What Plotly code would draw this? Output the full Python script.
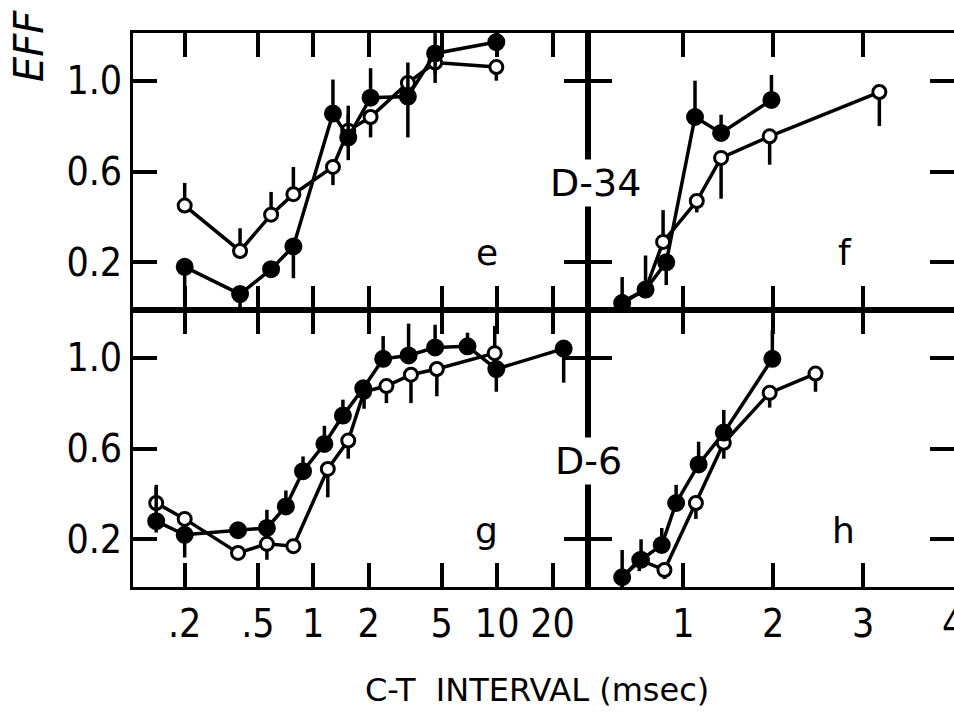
import plotly.graph_objects as go

# ---------------- data ----------------
# panel e (D-34, log axis)
e_x = [0.2, 0.4, 0.59, 0.78, 1.28, 1.55, 2.05, 3.27, 4.6, 9.9]
e_open = [0.45, 0.25, 0.41, 0.50, 0.62, 0.78, 0.84, 0.99, 1.08, 1.06]
e_open_up = [0.10, 0.10, 0.10, 0.12, 0.0, 0.07, 0.0, 0.0, 0.0, 0.0]
e_open_dn = [0.0, 0.0, 0.0, 0.0, 0.08, 0.05, 0.09, 0.0, 0.05, 0.06]
e_fill = [0.18, 0.06, 0.17, 0.27, 0.855, 0.75, 0.925, 0.93, 1.12, 1.17]
e_fill_up = [0.0, 0.0, 0.0, 0.0, 0.15, 0.14, 0.13, 0.15, 0.10, 0.08]
e_fill_dn = [0.15, 0.06, 0.0, 0.14, 0.0, 0.10, 0.0, 0.18, 0.13, 0.0]

# panel f (D-34, linear axis)
f_open_x = [0.32, 0.58, 0.775, 1.15, 1.42, 1.96, 3.18]
f_open = [0.025, 0.08, 0.29, 0.47, 0.66, 0.755, 0.95]
f_open_up = [0.11, 0.15, 0.14, 0.0, 0.0, 0.0, 0.0]
f_open_dn = [0.0, 0.0, 0.0, 0.05, 0.18, 0.125, 0.15]
f_fill_x = [0.32, 0.58, 0.81, 1.13, 1.42, 1.98]
f_fill = [0.02, 0.08, 0.2, 0.84, 0.77, 0.915]
f_fill_up = [0.0, 0.0, 0.0, 0.16, 0.08, 0.11]
f_fill_dn = [0.0, 0.0, 0.1, 0.0, 0.0, 0.0]

# panel g (D-6, log axis)
g_fill_x = [0.14, 0.2, 0.39, 0.56, 0.71, 0.88, 1.15, 1.45, 1.87, 2.4, 3.3, 4.6, 6.9, 9.9, 23]
g_fill = [0.28, 0.22, 0.24, 0.25, 0.345, 0.50, 0.62, 0.745, 0.865, 0.995, 1.01, 1.045, 1.05, 0.95, 1.04]
g_fill_up = [0.15, 0.0, 0.0, 0.08, 0.07, 0.065, 0.08, 0.07, 0.0, 0.1, 0.14, 0.1, 0.06, 0.0, 0.0]
g_fill_dn = [0.05, 0.1, 0.0, 0.0, 0.0, 0.0, 0.0, 0.0, 0.0, 0.0, 0.0, 0.0, 0.0, 0.1, 0.15]
g_open_x = [0.14, 0.2, 0.39, 0.56, 0.78, 1.2, 1.55, 1.89, 2.5, 3.4, 4.7, 9.7]
g_open = [0.36, 0.29, 0.14, 0.18, 0.17, 0.51, 0.635, 0.85, 0.875, 0.925, 0.95, 1.02]
g_open_up = [0.08, 0.0, 0.0, 0.0, 0.0, 0.0, 0.0, 0.0, 0.0, 0.0, 0.0, 0.12]
g_open_dn = [0.0, 0.0, 0.0, 0.07, 0.0, 0.125, 0.08, 0.075, 0.075, 0.125, 0.12, 0.0]

# panel h (D-6, linear axis)
h_fill_x = [0.32, 0.53, 0.76, 0.92, 1.17, 1.45, 1.99]
h_fill = [0.033, 0.11, 0.175, 0.36, 0.53, 0.67, 0.995]
h_fill_up = [0.12, 0.09, 0.075, 0.08, 0.1, 0.1, 0.125]
h_fill_dn = [0.07, 0.0, 0.0, 0.0, 0.0, 0.0, 0.0]
h_open_x = [0.32, 0.51, 0.79, 1.14, 1.45, 1.96, 2.47]
h_open = [0.033, 0.11, 0.065, 0.36, 0.625, 0.845, 0.93]
h_open_up = [0.0, 0.0, 0.0, 0.0, 0.0, 0.0, 0.0]
h_open_dn = [0.05, 0.05, 0.04, 0.07, 0.07, 0.065, 0.08]

log_ticks = [0.2, 0.5, 1, 2, 5, 10, 20]
log_ticktext = [".2", ".5", "1", "2", "5", "10", "20"]
lin_ticks = [1, 2, 3, 4]
lin_ticktext = ["1", "2", "3", "4"]
y_ticks = [0.2, 0.6, 1.0]
y_ticktext = ["0.2", "0.6", "1.0"]

panel_letters = ["e", "f", "g", "h"]
dog_labels = ["D-34", "D-6"]
x_title = "C-T  INTERVAL (msec)"
y_title = "EFF"

# ---------------- figure ----------------
W, H = 954, 713
FONT = "DejaVu Sans Condensed, Liberation Sans Narrow, DejaVu Sans"
FONT2 = "DejaVu Sans"
fig = go.Figure()


def add_series(x, y, up, dn, filled, xa, ya):
    fig.add_trace(go.Scatter(
        x=x, y=y, mode="lines+markers", xaxis=xa, yaxis=ya,
        line=dict(color="black", width=3.5),
        marker=dict(
            symbol="circle",
            size=15 if filled else 13,
            color="black" if filled else "white",
            line=dict(color="black", width=3),
        ),
        error_y=dict(type="data", symmetric=False, array=up, arrayminus=dn,
                     color="black", thickness=3.5, width=0),
        showlegend=False, cliponaxis=False,
    ))


add_series(e_x, e_open, e_open_up, e_open_dn, False, "x", "y")
add_series(e_x, e_fill, e_fill_up, e_fill_dn, True, "x", "y")
add_series(f_open_x, f_open, f_open_up, f_open_dn, False, "x2", "y2")
add_series(f_fill_x, f_fill, f_fill_up, f_fill_dn, True, "x2", "y2")
add_series(g_open_x, g_open, g_open_up, g_open_dn, False, "x3", "y3")
add_series(g_fill_x, g_fill, g_fill_up, g_fill_dn, True, "x3", "y3")
add_series(h_open_x, h_open, h_open_up, h_open_dn, False, "x4", "y4")
add_series(h_fill_x, h_fill, h_fill_up, h_fill_dn, True, "x4", "y4")


def px_x(p):
    return p / W


def px_y(p):
    return 1 - p / H


left_dom = [px_x(133), px_x(588)]
right_dom = [px_x(588), 1.0]
top_dom = [px_y(310), px_y(33)]
bot_dom = [px_y(587), px_y(310)]

tickfont = dict(family=FONT, size=39, color="black")
common = dict(showline=True, linecolor="black", linewidth=3, mirror="ticks",
              ticks="inside", ticklen=24, tickwidth=3.5, tickcolor="black",
              showgrid=False, zeroline=False, tickfont=tickfont,
              automargin=False)

log_range = [-0.98, 1.494]
lin_range = [-0.06, 4.01]
y_range = [-0.01, 1.21]

fig.update_layout(
    width=W, height=H, margin=dict(l=0, r=0, t=0, b=0, autoexpand=False),
    paper_bgcolor="white", plot_bgcolor="white",
    xaxis=dict(type="log", range=log_range, domain=left_dom, anchor="y",
               tickvals=log_ticks, showticklabels=False, **common),
    yaxis=dict(range=y_range, domain=top_dom, anchor="x",
               tickvals=y_ticks, ticktext=y_ticktext, **common),
    xaxis2=dict(range=lin_range, domain=right_dom, anchor="y2",
                tickvals=lin_ticks, showticklabels=False, **common),
    yaxis2=dict(range=y_range, domain=top_dom, anchor="x2",
                tickvals=y_ticks, showticklabels=False, **common),
    xaxis3=dict(type="log", range=log_range, domain=left_dom, anchor="y3",
                tickvals=log_ticks, ticktext=log_ticktext, **common),
    yaxis3=dict(range=y_range, domain=bot_dom, anchor="x3",
                tickvals=y_ticks, ticktext=y_ticktext, **common),
    xaxis4=dict(range=lin_range, domain=right_dom, anchor="y4",
                tickvals=lin_ticks, ticktext=lin_ticktext,
                ticklabeloverflow="allow", **common),
    yaxis4=dict(range=y_range, domain=bot_dom, anchor="x4",
                tickvals=y_ticks, showticklabels=False, **common),
)

annfont = dict(family=FONT2, size=36, color="black")
ann = []
for txt, xp, yp in [(panel_letters[0], 487, 252), (panel_letters[1], 845, 252),
                    (panel_letters[2], 487, 530), (panel_letters[3], 843, 530)]:
    ann.append(dict(text=txt, x=px_x(xp), y=px_y(yp), xref="paper", yref="paper",
                    xanchor="center", yanchor="middle",
                    showarrow=False, font=annfont))
ann.append(dict(text=dog_labels[0], x=px_x(595), y=px_y(183), xref="paper", yref="paper",
                xanchor="center", yanchor="middle",
                showarrow=False, font=dict(family=FONT2, size=38, color="black"),
                bgcolor="white"))
ann.append(dict(text=dog_labels[1], x=px_x(588), y=px_y(461), xref="paper", yref="paper",
                xanchor="center", yanchor="middle",
                showarrow=False, font=dict(family=FONT2, size=38, color="black"),
                bgcolor="white"))
ann.append(dict(text=x_title, x=px_x(537), y=px_y(690), xref="paper", yref="paper",
                xanchor="center", yanchor="middle",
                showarrow=False, font=dict(family=FONT2, size=32, color="black")))
ann.append(dict(text=y_title, x=px_x(29), y=px_y(84), xref="paper", yref="paper",
                xanchor="center", yanchor="bottom", textangle=-90,
                showarrow=False,
                font=dict(family=FONT2, size=40, color="black", style="italic")))
fig.update_layout(annotations=ann)

fig.write_html("out.html")
